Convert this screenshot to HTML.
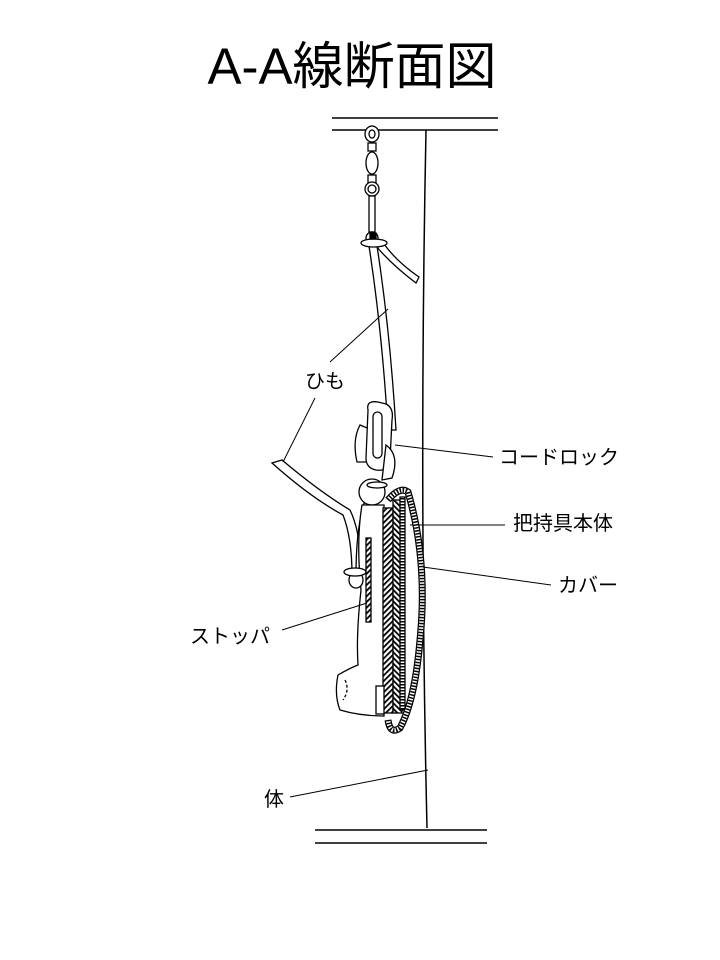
<!DOCTYPE html>
<html><head><meta charset="utf-8"><style>
html,body{margin:0;padding:0;background:#fff;width:720px;height:960px;overflow:hidden}
svg{display:block}
text{font-family:"Liberation Sans","Noto Sans CJK JP",sans-serif;fill:#000}
</style></head><body>
<svg width="720" height="960" viewBox="0 0 720 960" xmlns="http://www.w3.org/2000/svg">
<defs>
<pattern id="h1" width="4" height="4" patternUnits="userSpaceOnUse" patternTransform="rotate(45)"><rect width="4" height="4" fill="#fff"/><rect width="1.8" height="4" fill="#000"/></pattern>
<pattern id="h2" width="4" height="4" patternUnits="userSpaceOnUse" patternTransform="rotate(-45)"><rect width="4" height="4" fill="#fff"/><rect width="1.8" height="4" fill="#000"/></pattern>
<pattern id="h3" width="3" height="3" patternUnits="userSpaceOnUse"><rect width="3" height="3" fill="#fff"/><rect width="3" height="1.5" fill="#000"/></pattern>
</defs>
<text x="352" y="84" font-size="51" text-anchor="middle">A-A線断面図</text>
<g fill="none" stroke="#000" stroke-width="1.5">
<path d="M332 118 L498 118"/><path d="M332 130 L498 130"/>
<path d="M315 830 L487 830"/><path d="M315 843 L487 843"/>
<path d="M426 130 Q419 480 427 828"/>
</g>
<g fill="#fff" stroke="#000" stroke-width="1.3">
<ellipse cx="372" cy="134" rx="7" ry="8"/><ellipse cx="372" cy="134" rx="3" ry="4"/>
<rect x="368" y="143" width="8" height="8"/>
<ellipse cx="372" cy="163" rx="6" ry="11"/>
<rect x="368" y="175" width="8" height="8"/>
<circle cx="372" cy="189" r="7"/><circle cx="372" cy="189" r="4"/>
<rect x="369" y="196" width="6" height="36"/>
<path d="M376 246 Q392 265 416 283 L419 277 Q397 262 384 244 Z"/>
<path d="M369 246 Q382 330 388 430 L396 430 Q390 330 377 246 Z"/>
<circle cx="372" cy="238" r="6"/>
<ellipse cx="374" cy="243" rx="13" ry="4"/>
<rect x="370" y="233" width="6" height="6" fill="#000"/>
<path d="M272 463 L282 460 Q320 492 350 510 Q362 535 360 575 L352 575 Q352 538 343 515 Q310 497 272 463 Z"/>
<path d="M368 492 Q356 520 356 575 L362 575 Q362 525 374 498 Z"/>
<path d="M360 425 Q352 440 357 462 L372 462 L372 430 Z"/>
<path d="M368 410 Q366 400 378 402 L386 404 Q394 408 392 420 L390 460 Q388 472 376 470 Q366 468 366 458 Z"/>
<rect x="373" y="412" width="9" height="46" rx="4.5"/>
<path d="M386 445 Q400 455 392 478 L382 480 Z"/>
<circle cx="372" cy="492" r="13"/>
<ellipse cx="377" cy="485" rx="10" ry="3"/>
<path d="M362 505 Q356 540 361 590 Q356 635 358 665 Q350 668 338 675 Q334 695 340 710 Q360 716 384 716 L384 505 Z"/>
<path d="M345 680 Q350 690 343 700" stroke-dasharray="3 2"/>
<rect x="366" y="538" width="5" height="84" fill="url(#h1)"/>
<ellipse cx="356" cy="580" rx="7" ry="8"/>
<ellipse cx="355" cy="572" rx="11" ry="4"/>
<rect x="383" y="508" width="10" height="205" fill="url(#h1)"/>
<rect x="393" y="500" width="9" height="213" fill="url(#h2)"/>
<rect x="400" y="497" width="5" height="213" fill="url(#h3)"/>
<rect x="376" y="686" width="8" height="28" fill="#fff"/>
</g>
<path d="M388 500 Q400 486 408 492 Q428 560 420 640 Q415 700 400 728 Q390 735 388 720" fill="none" stroke="#000" stroke-width="7"/>
<path d="M388 500 Q400 486 408 492 Q428 560 420 640 Q415 700 400 728 Q390 735 388 720" fill="none" stroke="#fff" stroke-width="4.5"/>
<path d="M388 500 Q400 486 408 492 Q428 560 420 640 Q415 700 400 728 Q390 735 388 720" fill="none" stroke="#000" stroke-width="4.5" stroke-dasharray="1.5 1.5"/>
<g stroke="#000" stroke-width="1" fill="none">
<path d="M330 362 L388 309"/>
<path d="M315 398 L283 462"/>
<path d="M395 445 L493 457"/>
<path d="M410 525 L505 525"/>
<path d="M423 567 L551 585"/>
<path d="M282 630 L367 603"/>
<path d="M290 797 L428 770"/>
</g>
<g font-size="20">
<text x="305" y="388">ひも</text>
<text x="499" y="464">コードロック</text>
<text x="513" y="530">把持具本体</text>
<text x="558" y="592">カバー</text>
<text x="190" y="643">ストッパ</text>
<text x="264" y="806">体</text>
</g>
</svg>
</body></html>
